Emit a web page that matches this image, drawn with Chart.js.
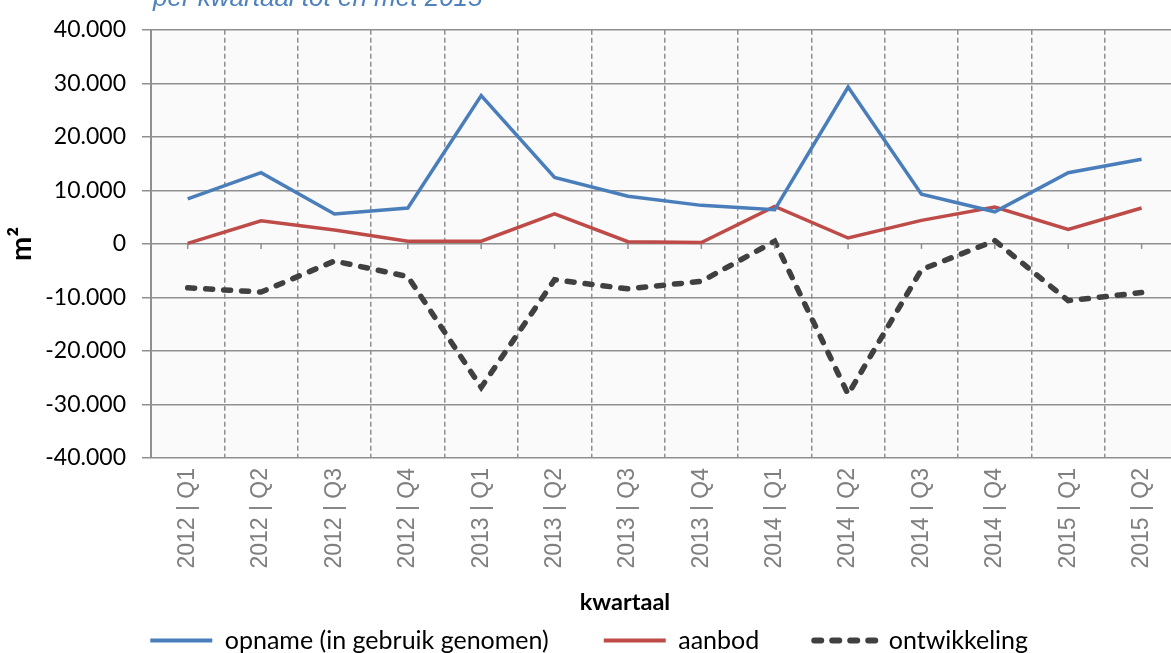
<!DOCTYPE html>
<html>
<head>
<meta charset="utf-8">
<script src="https://cdn.jsdelivr.net/npm/chart.js@4/dist/chart.umd.min.js"></script>
<style>
  html, body { margin: 0; padding: 0; background: #fff; overflow: hidden; }
  #wrap { position: absolute; left: 0; top: 0; width: 1180px; height: 663px; }
</style>
</head>
<body>
<div id="wrap"><canvas id="chart"></canvas></div>
<script>
// data (m², per quarter)
const kwartalen = ['2012 | Q1', '2012 | Q2', '2012 | Q3', '2012 | Q4',
                   '2013 | Q1', '2013 | Q2', '2013 | Q3', '2013 | Q4',
                   '2014 | Q1', '2014 | Q2', '2014 | Q3', '2014 | Q4',
                   '2015 | Q1', '2015 | Q2'];
const opname = [8400, 13300, 5600, 6700, 27700, 12400, 8900, 7200, 6400, 29300, 9300, 6000, 13300, 15800];
const aanbod = [100, 4300, 2600, 500, 500, 5600, 400, 250, 7000, 1100, 4400, 6900, 2700, 6700];
const ontwikkeling = [-8200, -9000, -3200, -6100, -26800, -6700, -8400, -7000, 500, -28100, -4800, 600, -10600, -9100];
const yTicks = [-40000, -30000, -20000, -10000, 0, 10000, 20000, 30000, 40000];

const gridGrey = '#8f8f8f';

function fmt(v) {
  if (v === 0) return '0';
  const s = Math.abs(v).toString().replace(/\B(?=(\d{3})+(?!\d))/g, '.');
  return (v < 0 ? '-' : '') + s;
}

// plot background, zero-line tick marks and the free texts
const extras = {
  id: 'extras',
  beforeDraw(chart) {
    const { ctx, chartArea: a } = chart;
    ctx.save();
    ctx.fillStyle = '#fafafa';
    ctx.fillRect(a.left, a.top, a.right - a.left, a.bottom - a.top);
    ctx.restore();
  },
  afterDatasetsDraw(chart) {
    const { ctx } = chart;
    const x = chart.scales.x, y = chart.scales.y;
    const y0 = y.getPixelForValue(0);
    ctx.save();
    ctx.strokeStyle = gridGrey;
    ctx.lineWidth = 1.5;
    kwartalen.forEach((k, i) => {
      const px = x.getPixelForValue(i);
      ctx.beginPath();
      ctx.moveTo(px, y0);
      ctx.lineTo(px, y0 + 5);
      ctx.stroke();
    });
    ctx.restore();
  },
  afterDraw(chart) {
    const { ctx } = chart;
    ctx.save();
    ctx.fillStyle = '#4f81bd';
    ctx.font = 'italic 26px "Liberation Sans"';
    ctx.textBaseline = 'alphabetic';
    ctx.fillText('per kwartaal tot en met 2015', 153, 6);
    ctx.fillStyle = '#000';
    ctx.font = 'bold 23.5px Lato';
    ctx.textAlign = 'center';
    ctx.textBaseline = 'middle';
    ctx.fillText('kwartaal', 625, 602);
    ctx.restore();
  }
};

new Chart(document.getElementById('chart'), {
  type: 'line',
  data: {
    labels: kwartalen,
    datasets: [{
      label: 'opname (in gebruik genomen)',
      data: opname,
      borderColor: '#4a7ebb',
      backgroundColor: '#4a7ebb',
      borderWidth: 3.5,
      pointRadius: 0,
      pointStyle: 'line',
      tension: 0
    }, {
      label: 'aanbod',
      data: aanbod,
      borderColor: '#be4b48',
      backgroundColor: '#be4b48',
      borderWidth: 3.5,
      pointRadius: 0,
      pointStyle: 'line',
      tension: 0
    }, {
      label: 'ontwikkeling',
      data: ontwikkeling,
      borderColor: '#404040',
      backgroundColor: '#404040',
      borderWidth: 5.5,
      borderDash: [7, 11],
      borderCapStyle: 'round',
      pointRadius: 0,
      pointStyle: 'line',
      tension: 0
    }]
  },
  options: {
    responsive: true,
    maintainAspectRatio: false,
    animation: false,
    layout: { padding: { top: 26, right: 1.7, left: 0, bottom: 0 } },
    plugins: {
      title: { display: false },
      tooltip: { enabled: false },
      legend: {
        position: 'bottom',
        labels: {
          usePointStyle: true,
          pointStyleWidth: 62,
          padding: 55,
          color: '#000',
          font: { family: 'Lato', size: 25 },
          generateLabels(chart) {
            const items = Chart.defaults.plugins.legend.labels.generateLabels(chart);
            items.forEach((it, i) => {
              const ds = chart.data.datasets[i];
              it.strokeStyle = ds.borderColor;
              it.lineWidth = ds.borderWidth + 0.5;
              it.lineDash = ds.borderDash || [];
              it.lineCap = ds.borderCapStyle || 'butt';
            });
            return items;
          }
        }
      }
    },
    scales: {
      x: {
        offset: true,
        grid: { offset: true, color: gridGrey, lineWidth: 1.5, drawTicks: false },
        border: { display: false, dash: [5, 3] },
        ticks: {
          autoSkip: false,
          maxRotation: 90,
          minRotation: 90,
          padding: 10,
          color: '#7f7f7f',
          font: { family: 'Liberation Sans', size: 23 }
        },
        afterFit(scale) { scale.height = 115; }
      },
      y: {
        min: -40000,
        max: 40000,
        afterBuildTicks(scale) { scale.ticks = yTicks.map(v => ({ value: v })); },
        grid: { color: gridGrey, lineWidth: 1.5, tickLength: 9 },
        border: { display: true, color: gridGrey, width: 2 },
        ticks: {
          padding: 16,
          color: '#000',
          font: { family: 'Lato', size: 23 },
          callback: v => fmt(v)
        },
        title: {
          display: true,
          text: 'm²',
          color: '#000',
          font: { family: 'Lato', size: 29, weight: 'bold' },
          padding: { top: 4, bottom: 0 }
        },
        afterFit(scale) { scale.width = 151; }
      }
    }
  },
  plugins: [extras]
});
</script>
</body>
</html>
